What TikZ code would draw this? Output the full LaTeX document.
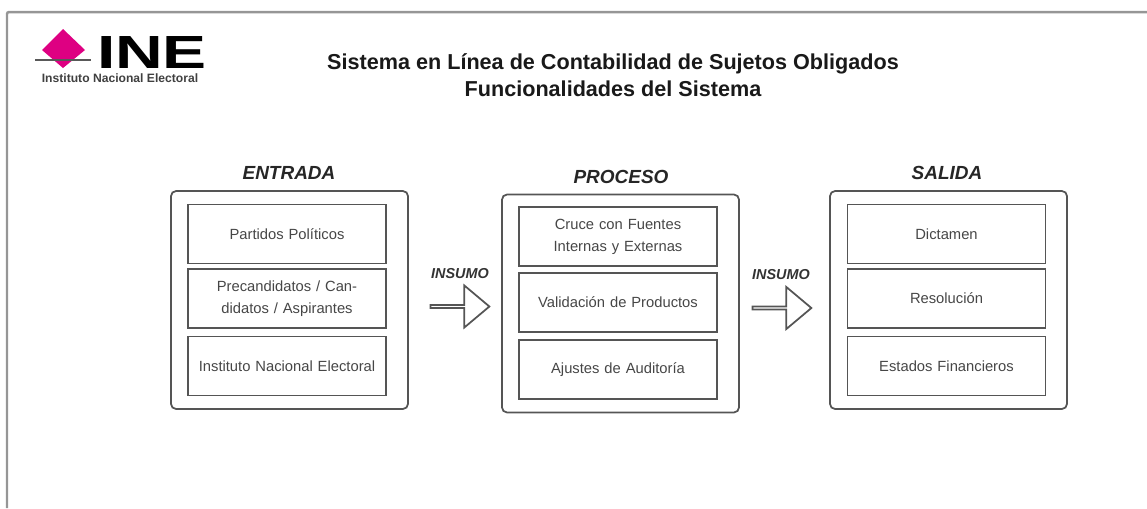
\documentclass[tikz,border=0pt]{standalone}
\usepackage{fontspec}
\setmainfont{Liberation Sans}
\usetikzlibrary{shapes.arrows}
\definecolor{inepink}{RGB}{222,0,130}
\definecolor{framegray}{RGB}{150,150,150}
\definecolor{boxgray}{RGB}{85,85,85}
\definecolor{textgray}{RGB}{70,70,70}
\tikzset{
  outerbox/.style={draw=boxgray,line width=0.035cm,rounded corners=0.1cm,minimum width=4.74cm,minimum height=4.36cm},
  innerbox/.style={draw=boxgray,line width=0.035cm,minimum width=3.96cm,minimum height=1.18cm,text width=3.9cm,align=center,inner sep=0pt,text=textgray,font=\fontsize{8.4}{12.5}\selectfont},
  boxtitle/.style={font=\fontsize{10.8}{13}\selectfont\bfseries\itshape,text=black!85},
  arrowlabel/.style={font=\fontsize{8.2}{10}\selectfont\bfseries\itshape,text=black!80},
  bigarrow/.style={single arrow,draw=boxgray,line width=0.035cm,fill=white,minimum height=1.18cm,minimum width=0.84cm,single arrow head extend=0.23cm,single arrow tip angle=80,inner sep=0pt}
}
\begin{document}
\begin{tikzpicture}

 \begin{scope}[x=0.02cm,y=-0.02cm]

  \useasboundingbox (0,0) rectangle (1147,508);

  \coordinate (fa) at (7,508);
  \coordinate (fb) at (7,12);
  \coordinate (fc) at (1147,12);
  \draw[framegray,line width=0.05cm,rounded corners=0.04cm] (fa) -- (fb) -- (fc);

  % logo
  \fill[inepink] (63,29) -- (85,50) -- (63,68) -- (42,50) -- cycle;
  \coordinate (la) at (35,60);
  \coordinate (lb) at (91,60);
  \draw[black!65,line width=0.03cm] (la) -- (lb);
  \node[inner sep=0pt] (ine) at (152,52) {\resizebox{2.2cm}{0.64cm}{\bfseries INE}};
  \node[inner sep=0pt,text=black!75] (inst) at (120,78) {\fontsize{6.9}{8}\selectfont\bfseries Instituto Nacional Electoral};

  \node[font=\fontsize{12.3}{15}\selectfont\bfseries,align=center,text=black!90] (title) at (613,75) {Sistema en Línea de Contabilidad de Sujetos Obligados\\ Funcionalidades del Sistema};

  \node[boxtitle] (tent) at (289,173) {ENTRADA};
  \node[boxtitle] (tpro) at (621,177) {PROCESO};
  \node[boxtitle] (tsal) at (947,173) {SALIDA};

  \node[outerbox] (ent) at (289.5,300) {};
  \node[outerbox] (pro) at (620.5,303.5) {};
  \node[outerbox] (sal) at (948.5,300) {};

  \node[innerbox] (enta) at (287,234) {Partidos Políticos};
  \node[innerbox] (entb) at (287,298.5) {Precandidatos / Candidatos / Aspirantes};
  \node[innerbox] (entc) at (287,366) {Instituto Nacional Electoral};

  \node[innerbox] (proa) at (618,236.5) {Cruce con Fuentes Internas y Externas};
  \node[innerbox] (prob) at (618,302.5) {Validación de Productos};
  \node[innerbox] (proc) at (618,369.5) {Ajustes de Auditoría};

  \node[innerbox] (sala) at (946.5,234) {Dictamen};
  \node[innerbox] (salb) at (946.5,298.5) {Resolución};
  \node[innerbox] (salc) at (946.5,366) {Estados Financieros};

  \node[arrowlabel] (lone) at (460,274) {INSUMO};
  \node[arrowlabel] (ltwo) at (781,275) {INSUMO};

  \node[bigarrow] (aone) at (459,306.5) {};
  \node[bigarrow] (atwo) at (781,308) {};

 \end{scope}

\end{tikzpicture}
\end{document}
